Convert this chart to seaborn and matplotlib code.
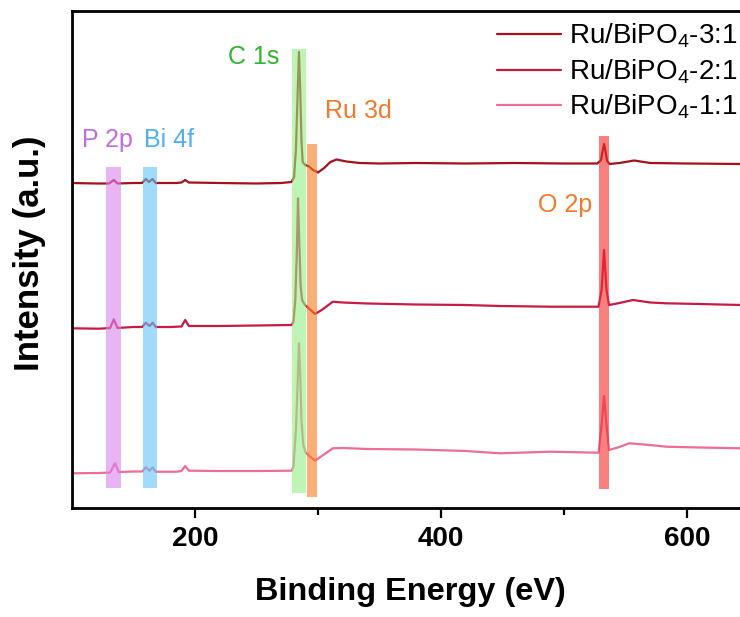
import matplotlib
matplotlib.use("Agg")
import matplotlib.pyplot as plt
import seaborn as sns
import pandas as pd
from matplotlib.ticker import FixedLocator

# ---------------- data ----------------
energy_31 = [100, 120, 130, 134, 137, 150, 157, 160, 162.5, 165.5, 168, 185, 189, 192, 195,
             220, 250, 270, 278.5, 280.5, 282, 283.5, 284.5, 285.5, 286.5, 287.5, 289.5, 292,
             296, 300, 305, 310, 315, 323, 334, 350, 380, 420, 460, 500, 527, 530, 531.5,
             532.5, 533.5, 535, 537, 545, 557, 570, 600, 644]
intensity_31 = [325, 324.5, 324.5, 328, 324.5, 325, 325, 329, 326, 329, 325, 325, 325.5, 328, 325.5,
                325, 324.5, 325, 326, 331, 358, 418, 456, 418, 368, 346, 343, 342,
                338, 335.5, 340, 346, 348.5, 346.5, 345, 344.5, 345, 344.5, 345, 344.5, 344.5, 348, 358,
                364, 358, 347, 344, 345, 347.5, 345, 344.5, 344]

energy_21 = [100, 122, 131, 134, 137, 150, 157, 160, 163, 165.6, 168, 180, 189, 192, 195,
             220, 250, 278.6, 280, 281.5, 282.8, 283.7, 284.7, 285.8, 287, 289.4, 293, 297.6,
             303, 312, 320, 340, 380, 420, 448, 489, 528, 530.5, 532.5, 534.5, 536.5, 545,
             556, 570, 583, 610, 644]
intensity_21 = [179.7, 179.3, 180, 188.7, 180, 181, 181, 185.3, 182, 185.3, 181, 181, 181.5, 188, 182,
                182, 182.5, 183, 186.3, 208, 258, 309.7, 268, 223, 208, 203, 199, 194,
                198, 206.3, 205.5, 204.5, 203.5, 203, 202, 201.3, 201.3, 218, 258, 218, 203, 205,
                208, 205.5, 204.7, 204, 203]

energy_11 = [100, 122, 131, 135, 138, 150, 157, 160, 163, 165.6, 168, 185, 189, 192, 195,
             220, 250, 278.6, 280, 282, 283.5, 284.5, 285.5, 286.5, 288, 290, 293, 297.6,
             303, 312, 320, 340, 380, 420, 448, 489, 528, 530.5, 532.5, 534.5, 536.5, 545,
             553, 570, 583, 610, 644]
intensity_11 = [34.7, 35, 35.5, 44.7, 36, 36.5, 36.5, 40.7, 37.3, 40.7, 36.3, 36.3, 37, 42, 37.3,
                37, 37, 37.3, 41.3, 78, 128, 164.7, 133, 88, 63, 55.3, 52, 47.3,
                52, 59.7, 60, 59, 58.5, 57, 54.7, 56.3, 55.3, 83, 112, 83, 58, 61,
                64.7, 63, 61.3, 60.5, 59.7]

series_labels = ["Ru/BiPO$_4$-3:1", "Ru/BiPO$_4$-2:1", "Ru/BiPO$_4$-1:1"]
series_colors = ["#A3121A", "#C81B43", "#EE6C95"]

band_names = ["P 2p", "Bi 4f", "C 1s", "Ru 3d", "O 2p"]
band_start = [127.6, 157.7, 279.0, 291.0, 528.5]
band_end = [139.8, 169.0, 290.0, 299.0, 536.6]
band_low = [20, 20, 15, 11, 19]
band_high = [341, 341, 459, 364, 372]
band_colors = ["#D982ED", "#61C5F7", "#93EE82", "#F77A1E", "#F72B2B"]

label_x = [129, 179, 248, 333, 501]
label_y = [368, 368, 451, 397, 303]
label_colors = ["#C36BE3", "#4DB0F2", "#2DB52D", "#F5782A", "#F5782A"]

# ---------------- styling ----------------
sns.set_style("ticks")
plt.rcParams["font.family"] = ["Liberation Sans", "DejaVu Sans"]
plt.rcParams["mathtext.fontset"] = "custom"
plt.rcParams["mathtext.rm"] = "Liberation Sans"
plt.rcParams["mathtext.it"] = "Liberation Sans"
plt.rcParams["mathtext.default"] = "regular"
plt.rcParams["text.color"] = "black"
plt.rcParams["axes.labelcolor"] = "black"
plt.rcParams["xtick.color"] = "black"
plt.rcParams["axes.edgecolor"] = "black"

fig = plt.figure(figsize=(7.4, 6.17), dpi=100)
ax = fig.add_axes([72 / 740, 1 - 508 / 617, 1 - 72 / 740, (508 - 11) / 617])

datasets = [(energy_31, intensity_31), (energy_21, intensity_21), (energy_11, intensity_11)]
for (e, i), lab, col in zip(datasets, series_labels, series_colors):
    df = pd.DataFrame({"Binding Energy (eV)": e, "Intensity": i})
    sns.lineplot(data=df, x="Binding Energy (eV)", y="Intensity", color=col, lw=1.6,
                 label=lab, ax=ax, zorder=2)

for x0, x1, y0, y1, c in zip(band_start, band_end, band_low, band_high, band_colors):
    ax.fill_between([x0, x1], [y0, y0], [y1, y1], color=c, alpha=0.6, lw=0, zorder=3)

for name, tx, ty, c in zip(band_names, label_x, label_y, label_colors):
    ax.text(tx, ty, name, color=c, fontsize=18, ha="center", va="center", zorder=4)

ax.set_xlim(100, 643)
ax.set_ylim(0, 497)
ax.set_yticks([])
ax.xaxis.set_major_locator(FixedLocator([200, 400, 600]))
ax.xaxis.set_minor_locator(FixedLocator([300, 500]))
ax.tick_params(axis="x", which="major", length=7, width=1.6, labelsize=20, pad=6,
               colors="black")
ax.tick_params(axis="x", which="minor", length=5, width=1.6, colors="black")
for lbl in ax.get_xticklabels():
    lbl.set_fontweight("bold")
for s in ["left", "bottom", "top"]:
    ax.spines[s].set_linewidth(2)
    ax.spines[s].set_color("black")
ax.spines["right"].set_visible(False)

ax.set_xlabel("Binding Energy (eV)", fontsize=23.4, fontweight="bold", color="black")
ax.xaxis.set_label_coords((410 - 72) / 668, -(592 - 508) / 497, transform=ax.transAxes)
ax.xaxis.label.set_va("center")
ax.set_ylabel("Intensity (a.u.)", fontsize=25, fontweight="bold", color="black")
ax.yaxis.set_label_coords(-(72 - 30) / 668, (508 - 253) / 497, transform=ax.transAxes)
ax.yaxis.label.set_va("center")

leg = ax.legend(loc="upper left", bbox_to_anchor=(0.636, 0.978), frameon=False,
                fontsize=20, handlelength=2.3, handletextpad=0.3, labelspacing=0.25,
                borderaxespad=0, borderpad=0)
for t in leg.get_texts():
    t.set_color("black")

fig.savefig("out.png", dpi=100)
